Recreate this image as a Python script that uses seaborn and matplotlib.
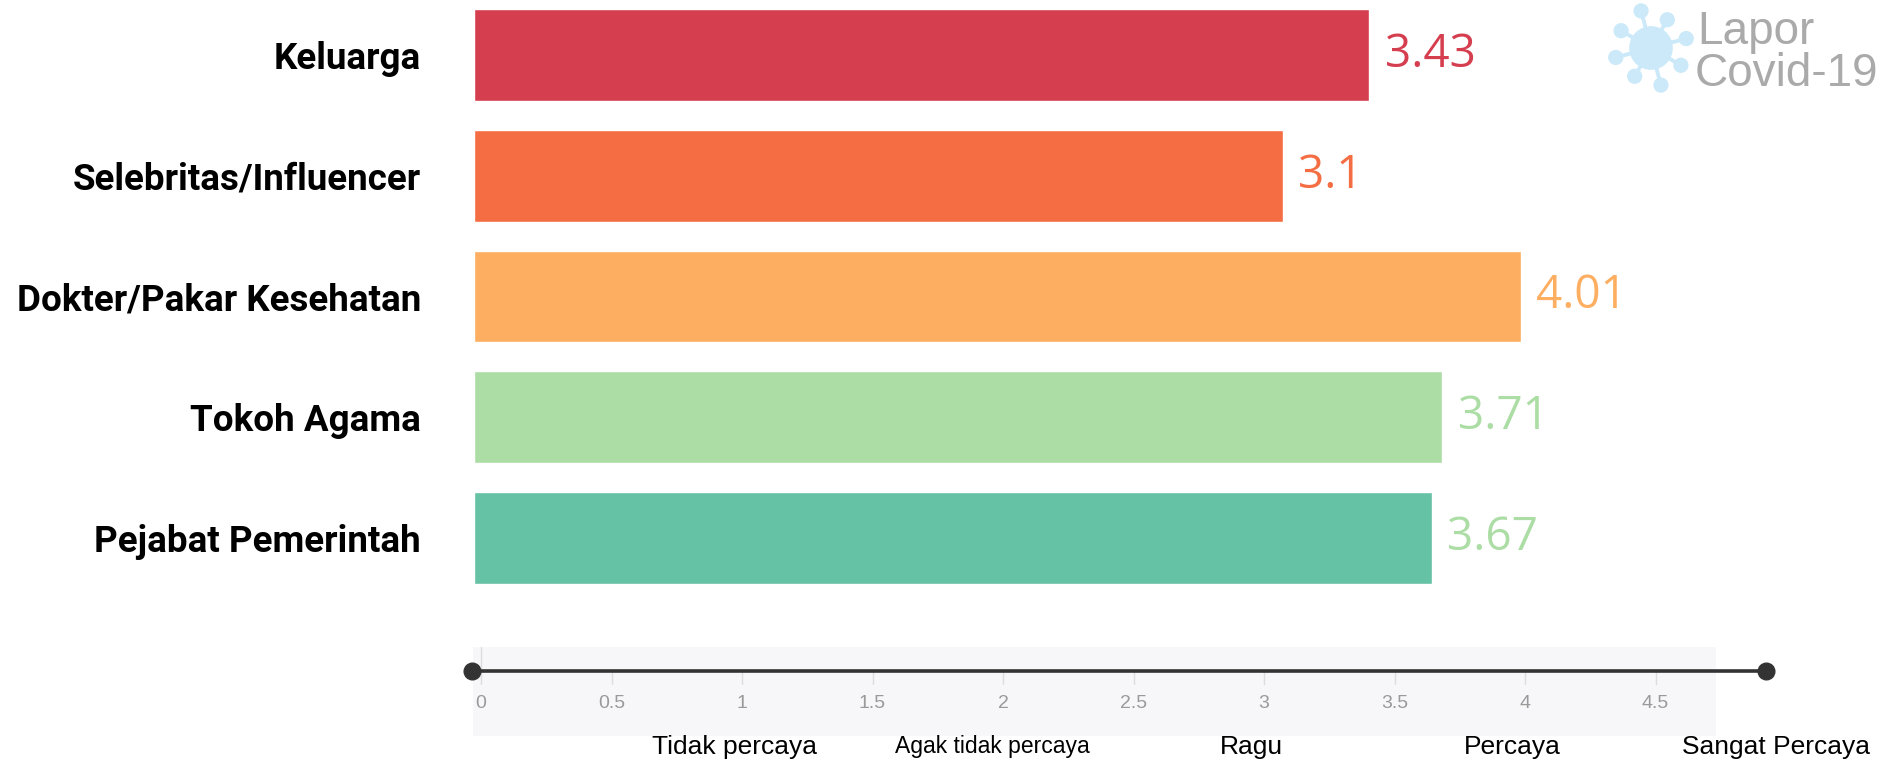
import numpy as np
import matplotlib
matplotlib.use("Agg")
import matplotlib.pyplot as plt
import seaborn as sns
import pandas as pd

# data
categories = ["Keluarga", "Selebritas/Influencer", "Dokter/Pakar Kesehatan",
              "Tokoh Agama", "Pejabat Pemerintah"]
values = [3.43, 3.1, 4.01, 3.71, 3.67]
bar_colors = ["#d53e4f", "#f46d43", "#fdae61", "#abdda4", "#66c2a5"]
label_colors = ["#d53e4f", "#f46d43", "#fdae61", "#abdda4", "#abdda4"]

tick_values = [0, 0.5, 1, 1.5, 2, 2.5, 3, 3.5, 4, 4.5]
tick_labels = ["0", "0.5", "1", "1.5", "2", "2.5", "3", "3.5", "4", "4.5"]
scale_pos = [0.97, 1.96, 2.95, 3.95, 4.96]
scale_labels = ["Tidak percaya", "Agak tidak percaya", "Ragu", "Percaya", "Sangat Percaya"]

sns.set_style("white")
plt.rcParams['font.family'] = ['Roboto', 'DejaVu Sans']
narrow = ['Liberation Sans Narrow', 'Liberation Sans', 'DejaVu Sans']

W, H = 1885, 764
PX = 261  # pixels per unit on both scales
fig = plt.figure(figsize=(W / 100, H / 100), dpi=100)

df = pd.DataFrame({"kategori": categories, "nilai": values})

# main bars
ax = fig.add_axes([474 / W, 166 / H, 1326 / W, 603 / H])
sns.barplot(data=df, x="nilai", y="kategori", hue="kategori", palette=bar_colors,
            width=0.76, legend=False, ax=ax, orient="h", saturation=1)
ax.set_xlim(0, 1326 / PX)
ax.set_ylim(4.5, -0.5)
for s in ax.spines.values():
    s.set_visible(False)
ax.set_xticks([])
ax.set_xlabel("")
ax.set_ylabel("")
ax.tick_params(axis="y", length=0, pad=38)
for lab in ax.get_yticklabels():
    lab.set_fontsize(26.5)
    lab.set_fontweight("bold")
    lab.set_color("black")
for cont, c in zip(ax.containers, label_colors):
    ax.bar_label(cont, fmt="%g", padding=11, color=c, fontsize=33,
                 family=["Open Sans", "DejaVu Sans"])

# bottom scale
x0 = -8 / PX
axb = fig.add_axes([473 / W, 28 / H, 1243 / W, 89 / H], facecolor="#f7f7f9")
axb.set_xlim(x0, x0 + 1243 / PX)
axb.set_ylim(0, 1)
for s in axb.spines.values():
    s.set_visible(False)
axb.set_xticks([])
axb.set_yticks([])
axb.plot([0, 0], [1.0, 0.73], color="#dddddd", lw=1)
for t, tl in zip(tick_values, tick_labels):
    axb.plot([t, t], [0.73, 0.58], color="#dddddd", lw=1)
    axb.text(t, 0.37, tl, ha="center", va="center", color="#9a9a9a",
             fontsize=14, family=narrow)
axb.plot([-0.035, 4.925], [0.73, 0.73], color="#333333", lw=2.6, clip_on=False,
         solid_capstyle="butt", zorder=3)
axb.plot([-0.035, 4.925], [0.73, 0.73], "o", color="#333333", ms=12, clip_on=False, zorder=4)
for p, sl in zip(scale_pos, scale_labels):
    fs = 16.5 if sl.startswith("Agak") else 19
    axb.text(p, -0.12, sl, ha="center", va="center", color="black",
             fontsize=fs, family=narrow, clip_on=False)

# logo
axl = fig.add_axes([1604 / W, (H - 96) / H, 94 / W, 96 / H])
axl.set_xlim(-2.4, 2.4)
axl.set_ylim(-2.5, 2.5)
axl.set_aspect("equal")
axl.axis("off")
blue = "#cbe9f9"
axl.add_patch(plt.Circle((0, 0), 1.1, color=blue))
for ang, r in zip([15, 60, 105, 150, 195, 240, 285, 330], [1.9, 1.7, 2.0, 1.8, 1.9, 1.7, 2.0, 1.8]):
    a = np.deg2rad(ang)
    axl.plot([0, r * np.cos(a)], [0, r * np.sin(a)], color=blue, lw=2.8)
    axl.add_patch(plt.Circle((r * np.cos(a), r * np.sin(a)), 0.36, color=blue))
fig.text(1697 / W, 1 - 44 / H, "Lapor", color="#aaaaaa", fontsize=33,
         family=["Liberation Sans", "DejaVu Sans"], va="baseline")
fig.text(1695 / W, 1 - 86 / H, "Covid-19", color="#aaaaaa", fontsize=33,
         family=["Liberation Sans", "DejaVu Sans"], va="baseline")

fig.savefig("out.png", dpi=100, facecolor="white")
